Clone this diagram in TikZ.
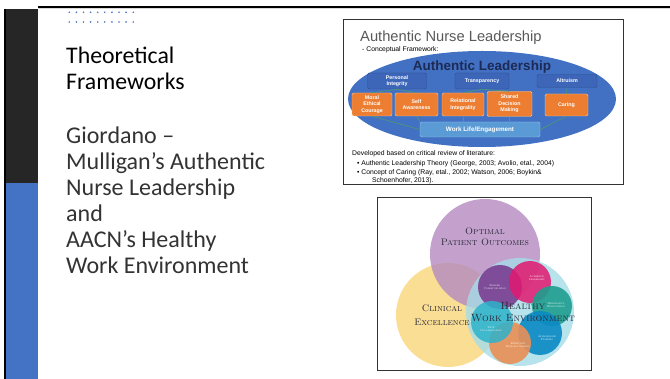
\documentclass[tikz,border=0pt]{standalone}
\usepackage{fontspec}
\setsansfont{Carlito}
\newfontfamily\arialfont{Liberation Sans}
\usepackage{xcolor}
\usetikzlibrary{positioning}

\definecolor{slidedark}{HTML}{262626}
\definecolor{slideblue}{HTML}{4472C4}
\definecolor{bodygrey}{HTML}{333333}
\definecolor{anlgrey}{HTML}{595959}
\definecolor{anlblue}{HTML}{4271C3}
\definecolor{anlbox}{HTML}{3D66B8}
\definecolor{anledge}{HTML}{2E4E8E}
\definecolor{anlorange}{HTML}{ED7D31}
\definecolor{anlwork}{HTML}{5B9BD5}
\definecolor{anlline}{HTML}{4E9A6E}
\definecolor{anlnavy}{HTML}{1C2A55}
\definecolor{hwepurple}{HTML}{B48AC0}
\definecolor{hweyellow}{HTML}{F9DE94}
\definecolor{hwecyan}{HTML}{A6DCE8}
\definecolor{hweskill}{HTML}{7A3E92}
\definecolor{hwelead}{HTML}{E2186F}
\definecolor{hwerecog}{HTML}{1E9E8E}
\definecolor{hwestaff}{HTML}{0B8AC4}
\definecolor{hwedecide}{HTML}{EB8F55}
\definecolor{hwecollab}{HTML}{2DB3CB}
\definecolor{hwetext}{HTML}{2A2A3A}

\begin{document}
\begin{tikzpicture}[
x=1pt, y=-1pt,
bluebox/.style={draw=anledge, fill=anlbox, rounded corners=1.5pt, minimum height=16pt, inner sep=0pt, align=center, text=white, font=\arialfont\bfseries\fontsize{5.3}{6.2}\selectfont},
orbox/.style={draw=orange!40, fill=anlorange, rounded corners=1.5pt, minimum height=23pt, inner sep=0pt, align=center, text=white, font=\arialfont\bfseries\fontsize{5.3}{6.4}\selectfont},
workbox/.style={draw=anlwork!60, fill=anlwork, rounded corners=1.5pt, minimum width=120pt, minimum height=15pt, inner sep=0pt, text=white, font=\arialfont\bfseries\fontsize{6.3}{7}\selectfont},
conn/.style={draw=anlline, line width=0.6pt},
littext/.style={anchor=base west, inner sep=0pt, font=\arialfont\fontsize{6.8}{8}\selectfont},
venn/.style={inner sep=0pt, align=center, text=hwetext, font=\rmfamily\scshape},
tiny/.style={inner sep=0pt, align=center, text=white, font=\rmfamily\scshape\fontsize{2.8}{3.2}\selectfont},
frame/.style={draw=black!80, line width=0.8pt}
]
\useasboundingbox (0,0) rectangle (670,379);

% slide background and side bars
\fill[white] (0,0) rectangle (670,379);
\fill[slidedark] (6,9) rectangle (38,183);
\fill[slideblue] (6,183) rectangle (38,379);
\fill[black] (4,9) rectangle (6,379);
\fill[black] (38,6) rectangle (670,8);
\draw[black!15, line width=0.6pt] (38,8.8) -- (670,8.8);

% dotted ornament
\foreach \row in {12.3,22} {
  \foreach \i in {0,...,9} {
    \fill[slideblue] (69.3+7.1*\i,\row) circle [radius=0.9pt];
  }
}

% slide text
\node[anchor=north west, inner sep=0pt, align=left, font=\sffamily\fontsize{23.8}{26}\selectfont] (title) at (66,47) {Theoretical\\Frameworks};
\node[anchor=north west, inner sep=0pt, align=left, text=bodygrey, font=\sffamily\fontsize{24}{26}\selectfont] (body) at (66,127) {Giordano --\\Mulligan’s Authentic\\Nurse Leadership\\and\\AACN’s Healthy\\Work Environment};

% ---- authentic nurse leadership framework ----
\draw[frame] (343,19) rectangle (623,184);
\node[anchor=base west, inner sep=0pt, text=anlgrey, font=\arialfont\fontsize{14.7}{15}\selectfont] (anltitle) at (360,42) {Authentic Nurse Leadership};
\node[anchor=base west, inner sep=0pt, font=\arialfont\fontsize{6.8}{8}\selectfont] (anlsub) at (362,51.5) {- Conceptual Framework:};
\fill[anlblue] (482,99) ellipse [x radius=134pt, y radius=48pt];
\node[inner sep=0pt, text=anlnavy, font=\arialfont\bfseries\fontsize{13.5}{14}\selectfont] (authlead) at (482,67) {Authentic Leadership};

\node[bluebox, minimum width=59pt] (integrity) at (397,81) {Personal\\Integrity};
\node[bluebox, minimum width=54pt] (transp) at (482,81) {Transparency};
\node[bluebox, minimum width=60pt, minimum height=13pt] (altruism) at (567,81) {Altruism};

\node[orbox, minimum width=40pt] (moral) at (372,104.5) {Moral\\Ethical\\Courage};
\node[orbox, minimum width=43pt] (selfaw) at (416.5,104.5) {Self\\Awareness};
\node[orbox, minimum width=42pt] (relat) at (463,104.5) {Relational\\Integrality};
\node[orbox, minimum width=45pt, minimum height=25pt] (shared) at (509.5,104) {Shared\\Decision\\Making};
\node[orbox, minimum width=43pt, minimum height=22pt] (caring) at (566.5,105) {Caring};

\node[workbox] (worklife) at (480,129.5) {Work Life/Engagement};

\draw[conn] (integrity.south) -- (moral.north);
\draw[conn] (integrity.south) -- (selfaw.north);
\draw[conn] (transp.south) -- (relat.north);
\draw[conn] (transp.south) -- (shared.north);
\draw[conn] (altruism.south) -- (caring.north);
\draw[conn] (moral.south) -- (worklife.west);
\draw[conn] (selfaw.south) -- (worklife.north west);
\draw[conn] (relat.south) -- (relat.south |- worklife.north);
\draw[conn] (shared.south) -- (shared.south |- worklife.north);
\draw[conn] (caring.south) -- (worklife.east);

\node[littext] (litintro) at (352,156) {Developed based on critical review of literature:};
\node[littext] (litone) at (357,166) {\textbullet\ Authentic Leadership Theory (George, 2003; Avolio, etal., 2004)};
\node[littext] (littwo) at (357,175) {\textbullet\ Concept of Caring (Ray, etal., 2002; Watson, 2006; Boykin\&};
\node[littext] (litthree) at (372,183) {Schoenhofer, 2013).};

% ---- healthy work environment venn ----
\draw[frame] (377,197) rectangle (591,370);
\begin{scope}
\clip (377.4,197.4) rectangle (590.6,369.6);
\fill[hweyellow] (448,315) circle [radius=52pt];
\fill[hwepurple, fill opacity=0.8] (485,254) circle [radius=55pt];
\fill[hwecyan, fill opacity=0.8] (520,312) circle [radius=54pt];
\fill[hweskill, fill opacity=0.9] (500,287) circle [radius=22pt];
\fill[hwelead, fill opacity=0.85] (530,282) circle [radius=21pt];
\fill[hwerecog, fill opacity=0.9] (552,306) circle [radius=20pt];
\fill[hwestaff, fill opacity=0.9] (540,333) circle [radius=22pt];
\fill[hwedecide, fill opacity=0.9] (510,343) circle [radius=21pt];
\fill[hwecollab, fill opacity=0.85] (492,322) circle [radius=21pt];
\end{scope}

\node[venn, font=\rmfamily\scshape\fontsize{9.5}{11}\selectfont] (optimal) at (485,237) {Optimal\\Patient Outcomes};
\node[venn, font=\rmfamily\scshape\fontsize{9.5}{14}\selectfont] (clinical) at (442,315) {Clinical\\Excellence};
\node[venn, font=\rmfamily\scshape\fontsize{10.5}{11.5}\selectfont] (healthy) at (523,312) {Healthy\\Work Environment};

\node[tiny] (skilled) at (495,287) {Skilled\\Communication};
\node[tiny] (authentic) at (537,278) {Authentic\\Leadership};
\node[tiny] (recog) at (556,305) {Meaningful\\Recognition};
\node[tiny] (staffing) at (547,338) {Appropriate\\Staffing};
\node[tiny] (decision) at (518,345) {Effective\\Decision Making};
\node[tiny] (collab) at (491,329) {True\\Collaboration};
\end{tikzpicture}
\end{document}
